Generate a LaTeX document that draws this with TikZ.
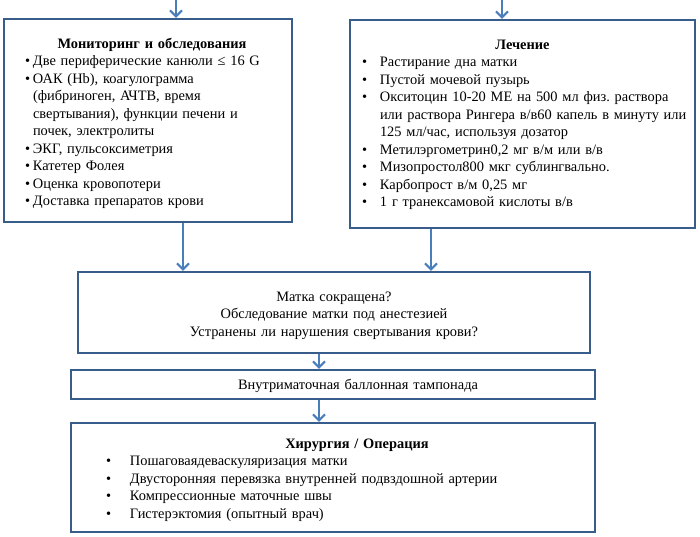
\documentclass[tikz,border=0pt]{standalone}
\usepackage{fontspec}
\setmainfont{Liberation Serif}
\usetikzlibrary{arrows.meta}
\frenchspacing

\definecolor{boxblue}{RGB}{56,93,138}
\definecolor{arrowblue}{RGB}{74,126,187}

\tikzset{
  flowbox/.style={draw=boxblue, line width=2.4pt, inner ysep=0pt,
    font=\fontsize{14.4}{17.5}\selectfont},
  flowarrow/.style={draw=arrowblue, line width=2pt,
    -{Straight Barb[length=6pt,width=12pt,line width=2pt]}}
}
% bullet line with hanging indent
\newcommand\bul[2]{\par\noindent\hangindent=#1\hangafter=1\makebox[#1][l]{\textbullet}#2}
% pull the text block down a little inside its box
\newcommand\lowertext[1]{\par\vspace{-#1}\nointerlineskip\null}

\begin{document}
\begin{tikzpicture}[x=1pt,y=-1pt]
\useasboundingbox (0,0) rectangle (700,536);
\node[flowbox, inner xsep=21pt, text width=246pt, minimum height=203pt, align=left] (monitor) at (148,120.5) {%
  {\centering\hspace*{8pt}\textbf{Мониторинг и обследования}\par}
  \bul{8pt}{Две периферические канюли ≤ 16 G}
  \bul{8pt}{ОАК (Hb), коагулограмма\newline (фибриноген, АЧТВ, время\newline свертывания), функции печени и\newline почек, электролиты}
  \bul{8pt}{ЭКГ, пульсоксиметрия}
  \bul{8pt}{Катетер Фолея}
  \bul{8pt}{Оценка кровопотери}
  \bul{8pt}{Доставка препаратов крови}\lowertext{6pt}};
\node[flowbox, inner xsep=12pt, text width=321pt, minimum height=208pt, align=left] (treat) at (522.5,124) {%
  \rightskip=-10pt plus 1fil
  {\centering\textbf{Лечение}\par}
  \bul{18pt}{Растирание дна матки}
  \bul{18pt}{Пустой мочевой пузырь}
  \bul{18pt}{Окситоцин 10-20 МЕ на 500 мл физ. раствора\newline или раствора Рингера в/в60 капель в минуту или\newline 125 мл/час, используя дозатор}
  \bul{18pt}{Метилэргометрин0,2 мг в/м или в/в}
  \bul{18pt}{Мизопростол800 мкг сублингвально.}
  \bul{18pt}{Карбопрост в/м 0,25 мг}
  \bul{18pt}{1 г транексамовой кислоты в/в}\lowertext{2pt}};
\node[flowbox, inner xsep=0pt, text width=512pt, minimum height=81pt, align=center] (check) at (334,312.5) {%
  Матка сокращена?\\ Обследование матки под анестезией\\ Устранены ли нарушения свертывания крови?\lowertext{6pt}};
\node[flowbox, inner xsep=0pt, text width=524pt, minimum height=29pt, align=center] (balloon) at (333,384.5) {%
  \hspace*{50pt}Внутриматочная баллонная тампонада\lowertext{4pt}};
\node[flowbox, inner xsep=35pt, text width=454pt, minimum height=109pt, align=left] (surgery) at (333,477.5) {%
  {\centering\hspace*{48pt}\textbf{Хирургия / Операция}\par}
  \bul{24pt}{Пошаговаядеваскуляризация матки}
  \bul{24pt}{Двусторонняя перевязка внутренней подвздошной артерии}
  \bul{24pt}{Компрессионные маточные швы}
  \bul{24pt}{Гистерэктомия (опытный врач)}\lowertext{5pt}};
% incoming arrows from above
\coordinate (in1) at (176,0);
\coordinate (in2) at (502,0);
\draw[flowarrow] (in1) -- (in1 |- monitor.north);
\draw[flowarrow] (in2) -- (in2 |- treat.north);
% arrows between boxes
\draw[flowarrow] ([xshift=35pt]monitor.south) -- ([xshift=35pt]monitor.south |- check.north);
\draw[flowarrow] ([xshift=-91.5pt]treat.south) -- ([xshift=-91.5pt]treat.south |- check.north);
\draw[flowarrow] ([xshift=-15pt]check.south) -- ([xshift=-15pt]check.south |- balloon.north);
\draw[flowarrow] ([xshift=-14pt]balloon.south) -- ([xshift=-14pt]balloon.south |- surgery.north);
\end{tikzpicture}
\end{document}
